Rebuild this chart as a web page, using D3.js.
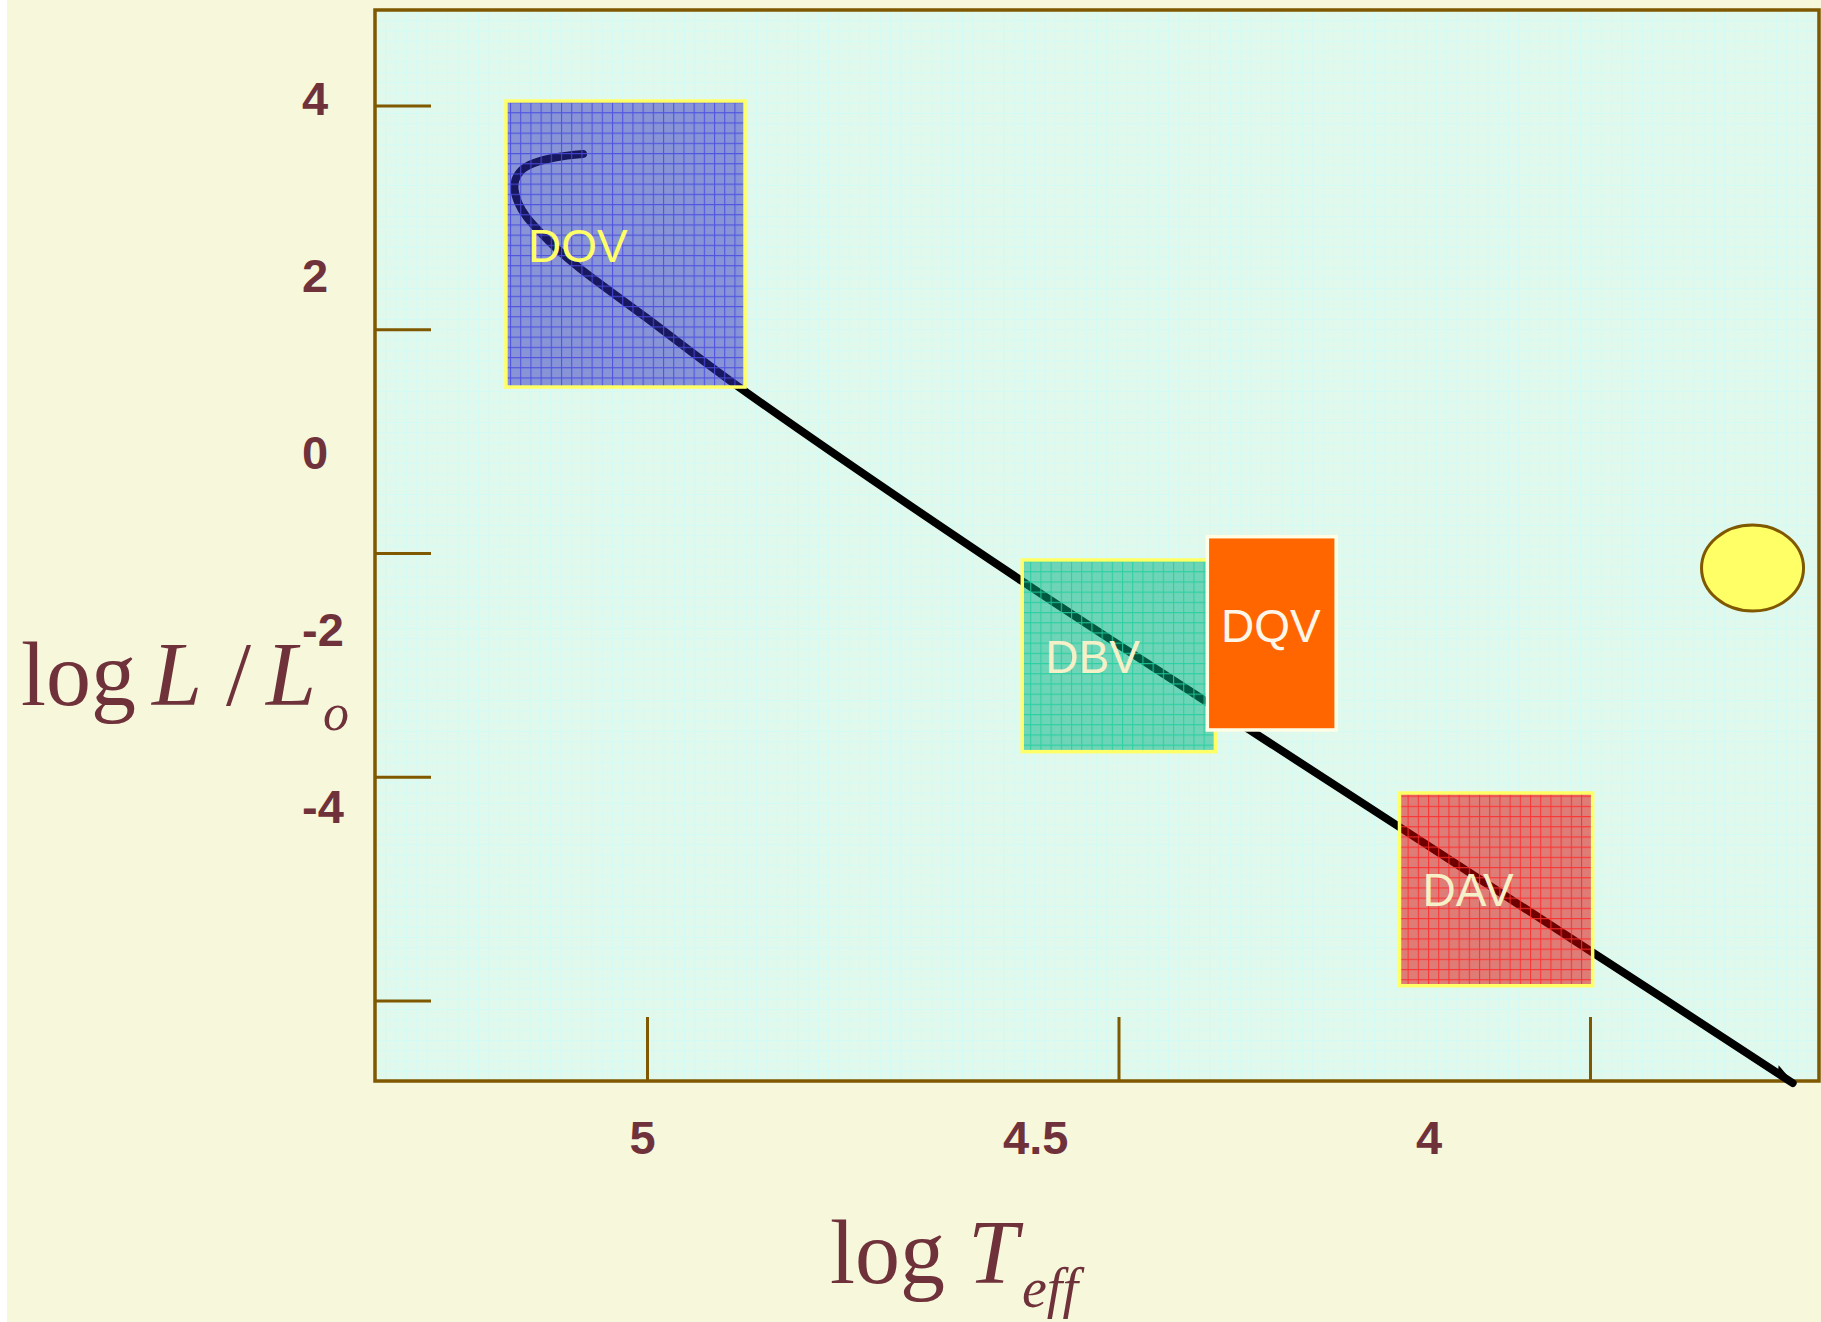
<!DOCTYPE html>
<html><head><meta charset="utf-8">
<script src="https://cdn.jsdelivr.net/npm/d3@7"></script>
<style>html,body{margin:0;padding:0;background:#ffffff;overflow:hidden}</style>
</head><body><svg id="c" width="1821" height="1322"></svg>
<script>
// ---------------- data ----------------
const xTickValues = [5, 4.5, 4];
const xTickLabels = ["5", "4.5", "4"];
const yTickValues = [4, 2, 0, -2, -4];
const yTickLabels = ["4", "2", "0", "-2", "-4"];

// white dwarf cooling track (log Teff, log L/Lsun)
const trackLogT = [5.075, 5.109, 5.138, 5.153, 5.161, 5.162, 5.157, 5.147, 5.130, 5.109, 5.079, 4.994, 4.884, 4.517, 4.282, 3.792, 3.537];
const trackLogL = [3.358, 3.321, 3.253, 3.177, 3.064, 2.951, 2.801, 2.650, 2.480, 2.293, 2.067, 1.505, 0.771, -1.467, -2.834, -5.659, -7.139];

// instability strips
const zoneNames  = ["DOV", "DBV", "DQV", "DAV"];
const zoneTmax   = [5.173, 4.5165, 4.2812, 4.0369];
const zoneTmin   = [4.869, 4.271, 4.1174, 3.7913];
const zoneLmax   = [3.957, -1.229, -0.966, -3.862];
const zoneLmin   = [0.725, -3.395, -3.150, -6.040];
const zoneLabelT = [5.145, 4.4873, 4.2004, 4.0076];
const zoneLabelL = [2.141, -2.506, -2.153, -5.139];

// the Sun marker
const sunLogT = [3.588];
const sunLogL = [-1.32];

// ---------------- chart ----------------
const svg = d3.select("#c");
const W = 1821, H = 1322;
const frame = {x0: 375, y0: 10, x1: 1819, y1: 1081};
const axisCol = "#7f5800", labCol = "#70323a";

const x = d3.scaleLinear().domain([5, 4]).range([642, 1428.5]);
const y = d3.scaleLinear().domain([4, -4]).range([97.2, 805.2]);
const xTick = d3.scaleLinear().domain([5, 4]).range([647, 1590]);
const yTick = d3.scaleLinear().domain([4, -4]).range([105.5, 1000.5]);

const defs = svg.append("defs");
const bgp = defs.append("pattern").attr("id", "bgGrid").attr("patternUnits", "userSpaceOnUse")
  .attr("width", 10.3).attr("height", 10.3).attr("x", frame.x0).attr("y", frame.y0);
bgp.append("rect").attr("width", 10.3).attr("height", 10.3).attr("fill", "#e1f9ec");
bgp.append("path").attr("d", "M0,0.5H10.3M0.5,0V10.3").attr("stroke", "#d2fbf6").attr("stroke-width", 1);

const zoneStyle = {
  DOV: {fill: "#3030c0", grid: "#4848e0", border: "#ffff66", text: "#ffff66", solid: false},
  DBV: {fill: "#00b080", grid: "#20d0a0", border: "#ffff66", text: "#f6f0c8", solid: false},
  DQV: {fill: "#ff6600", grid: null, border: "#fffde4", text: "#fff6ea", solid: true},
  DAV: {fill: "#e00000", grid: "#ff2a2a", border: "#ffff66", text: "#f6f0c8", solid: false}
};
zoneNames.forEach(n => {
  const s = zoneStyle[n];
  if (!s.grid) return;
  const p = defs.append("pattern").attr("id", "g" + n).attr("patternUnits", "userSpaceOnUse")
    .attr("width", 10.2).attr("height", 10.2);
  p.append("path").attr("d", "M0,0.5H10.2M0.5,0V10.2").attr("stroke", s.grid).attr("stroke-width", 1.2);
});

defs.append("marker").attr("id", "arr").attr("markerUnits", "userSpaceOnUse")
  .attr("viewBox", "-30 -10 34 20").attr("refX", 0).attr("refY", 0)
  .attr("markerWidth", 34).attr("markerHeight", 20).attr("orient", "auto")
  .append("path").attr("d", "M-20,-6 L-18,-2 L0,0 Z").attr("fill", "#000").attr("stroke", "#000").attr("stroke-width", 1.5);

// page background
svg.append("rect").attr("x", 7).attr("y", 0).attr("width", W - 7).attr("height", H).attr("fill", "#f7f7dc");
// plot area
svg.append("rect").attr("x", frame.x0).attr("y", frame.y0)
  .attr("width", frame.x1 - frame.x0).attr("height", frame.y1 - frame.y0)
  .attr("fill", "url(#bgGrid)");

// tick marks (inward)
const gxT = svg.append("g").attr("transform", `translate(0,${frame.y1})`)
  .call(d3.axisTop(xTick).tickValues(xTickValues).tickSize(64).tickFormat(""));
gxT.select(".domain").remove();
gxT.selectAll("line").attr("stroke", axisCol).attr("stroke-width", 3);
const gyT = svg.append("g").attr("transform", `translate(${frame.x0},0)`)
  .call(d3.axisRight(yTick).tickValues(yTickValues).tickSize(56).tickFormat(""));
gyT.select(".domain").remove();
gyT.selectAll("line").attr("stroke", axisCol).attr("stroke-width", 3);

// frame
svg.append("rect").attr("x", frame.x0).attr("y", frame.y0)
  .attr("width", frame.x1 - frame.x0).attr("height", frame.y1 - frame.y0)
  .attr("fill", "none").attr("stroke", axisCol).attr("stroke-width", 3.5);

// cooling track
const track = trackLogT.map((t, i) => [t, trackLogL[i]]);
svg.append("path").datum(track)
  .attr("d", d3.line().x(d => x(d[0])).y(d => y(d[1])).curve(d3.curveCatmullRom.alpha(0.5)))
  .attr("fill", "none").attr("stroke", "#000").attr("stroke-width", 8)
  .attr("stroke-linecap", "round").attr("stroke-linejoin", "round")
  .attr("marker-end", "url(#arr)");

// zones
zoneNames.forEach((n, i) => {
  const s = zoneStyle[n];
  const rx = x(zoneTmax[i]), rw = x(zoneTmin[i]) - x(zoneTmax[i]);
  const ry = y(zoneLmax[i]), rh = y(zoneLmin[i]) - y(zoneLmax[i]);
  const g = svg.append("g");
  g.append("rect").attr("x", rx).attr("y", ry).attr("width", rw).attr("height", rh)
    .attr("fill", s.fill).attr("fill-opacity", s.solid ? 1 : 0.5);
  if (s.grid) {
    g.append("rect").attr("x", rx).attr("y", ry).attr("width", rw).attr("height", rh)
      .attr("fill", `url(#g${n})`).attr("opacity", 0.85);
  }
  g.append("rect").attr("x", rx).attr("y", ry).attr("width", rw).attr("height", rh)
    .attr("fill", "none").attr("stroke", s.border).attr("stroke-width", 3.5);
  g.append("text").attr("x", x(zoneLabelT[i])).attr("y", y(zoneLabelL[i]))
    .attr("text-anchor", s.solid ? "middle" : "start")
    .attr("font-family", "'Liberation Sans', Arial, Helvetica, sans-serif")
    .attr("font-size", 46).attr("fill", s.text).text(n);
});

// Sun
svg.append("ellipse").attr("cx", x(sunLogT[0])).attr("cy", y(sunLogL[0]))
  .attr("rx", 51).attr("ry", 43).attr("fill", "#ffff66")
  .attr("stroke", axisCol).attr("stroke-width", 3);

// tick labels
const tickFont = "'Liberation Sans', Arial, Helvetica, sans-serif";
const gxL = svg.append("g").attr("transform", "translate(0,1137)")
  .call(d3.axisBottom(x).tickValues(xTickValues).tickSize(0).tickFormat((d, i) => xTickLabels[i]));
gxL.select(".domain").remove();
gxL.selectAll("text").attr("y", 0).attr("dy", "0.36em")
  .attr("font-family", tickFont).attr("font-weight", "bold").attr("font-size", 47).attr("fill", labCol);

const gyL = svg.append("g").attr("transform", "translate(302,0)")
  .call(d3.axisLeft(y).tickValues(yTickValues).tickSize(0).tickFormat((d, i) => yTickLabels[i]));
gyL.select(".domain").remove();
gyL.selectAll("text").attr("x", 0).attr("dy", "0.36em").attr("text-anchor", "start")
  .attr("font-family", tickFont).attr("font-weight", "bold").attr("font-size", 47).attr("fill", labCol);

// axis titles
const serif = "'Liberation Serif', 'Times New Roman', Times, serif";
const yt = svg.append("text").attr("font-family", serif).attr("font-size", 90).attr("fill", labCol).attr("y", 705);
yt.append("tspan").attr("x", 21).text("log");
yt.append("tspan").attr("x", 152).attr("font-style", "italic").text("L");
yt.append("tspan").attr("x", 226).text("/");
yt.append("tspan").attr("x", 266).attr("font-style", "italic").text("L");
yt.append("tspan").attr("x", 323).attr("y", 730).attr("font-style", "italic").attr("font-size", 52).text("o");

const xt = svg.append("text").attr("font-family", serif).attr("font-size", 90).attr("fill", labCol).attr("y", 1283);
xt.append("tspan").attr("x", 830).text("log");
xt.append("tspan").attr("x", 968).attr("font-style", "italic").text("T");
xt.append("tspan").attr("x", 1022).attr("y", 1307).attr("font-style", "italic").attr("font-size", 56).text("eff");
</script>
</body></html>
